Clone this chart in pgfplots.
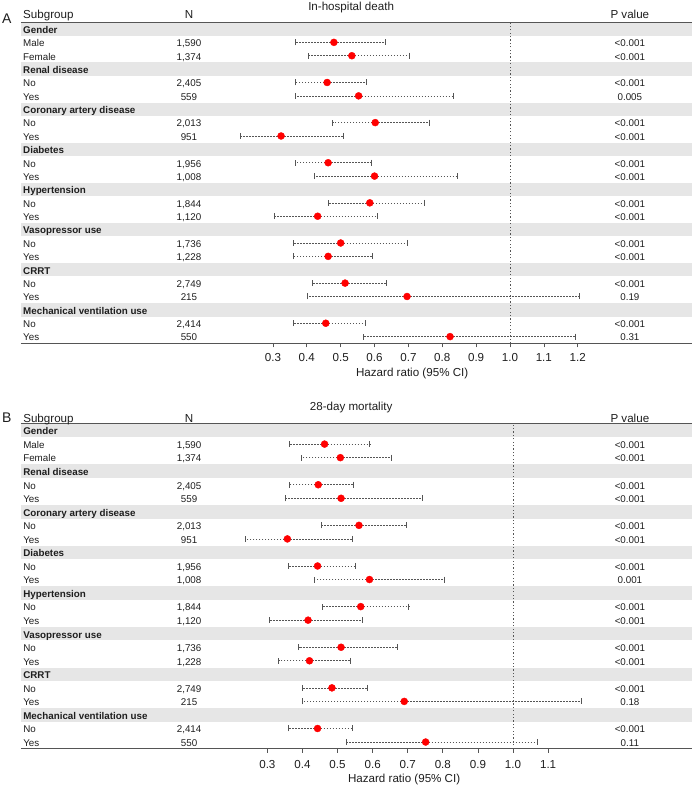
\documentclass[border=0pt]{standalone}
\usepackage{fontspec}
\setmainfont{Liberation Sans}
\usepackage{pgfplots}
\usepackage{pgfplotstable}
\pgfplotsset{compat=1.18}

\definecolor{band}{HTML}{E6E6E6}
\definecolor{txt}{HTML}{1E1E1E}
\definecolor{ln}{HTML}{555555}

\newcommand{\bodyf}{\fontsize{9.8}{11}\selectfont}
\newcommand{\headf}{\fontsize{11.6}{13}\selectfont}

\pgfplotstableread{
y hr lo hi
23 0.480 0.367 0.632
22 0.533 0.404 0.704
20 0.460 0.367 0.576
19 0.553 0.366 0.833
17 0.602 0.476 0.762
16 0.324 0.205 0.507
14 0.463 0.365 0.590
13 0.600 0.423 0.845
11 0.586 0.463 0.746
10 0.432 0.303 0.609
8 0.500 0.359 0.697
7 0.463 0.359 0.594
5 0.513 0.415 0.636
4 0.696 0.401 1.204
2 0.456 0.360 0.573
1 0.823 0.567 1.193
}\dataA

\pgfplotstableread{
y hr lo hi
23 0.463 0.362 0.592
22 0.508 0.396 0.653
20 0.445 0.362 0.545
19 0.510 0.350 0.742
17 0.561 0.453 0.695
16 0.357 0.236 0.541
14 0.443 0.359 0.551
13 0.591 0.433 0.803
11 0.566 0.457 0.703
10 0.416 0.305 0.571
8 0.510 0.389 0.670
7 0.420 0.332 0.536
5 0.484 0.401 0.585
4 0.690 0.399 1.194
2 0.443 0.361 0.542
1 0.751 0.526 1.070
}\dataB

\tikzset{rowtxt/.style={font=\bodyf, text=txt, inner sep=0pt, text height=7pt, text depth=0pt, yshift=-0.8pt}}

\newcommand{\band}[1]{\fill[band] (axis cs:\pgfkeysvalueof{/pgfplots/xmin},#1-0.5) rectangle (axis cs:\pgfkeysvalueof{/pgfplots/xmax},#1+0.5);}
\newcommand{\grp}[2]{\node[rowtxt, anchor=west, font=\bodyf\bfseries] at (axis cs:\LX,#1) {#2};}
\newcommand{\rw}[4]{\node[rowtxt, anchor=west] at (axis cs:\LX,#1) {#2};\node[rowtxt] at (axis cs:\NX,#1) {#3};\node[rowtxt] at (axis cs:\PX,#1) {#4};}

\pgfplotsset{forest/.style={
  scale only axis, width=671pt,
  ymin=0.5, ymax=24.5,
  clip=false,
  axis x line*=bottom, axis y line=none,
  x axis line style={ln, line width=0.9pt},
  tick align=outside, major tick length=4pt,
  xtick style={ln, line width=0.7pt},
  ytick=\empty,
  xticklabel style={font=\headf, text=txt, yshift=-3pt, /pgf/number format/fixed, /pgf/number format/fixed zerofill, /pgf/number format/precision=1},
  /pgf/number format/assume math mode=true,
}}

\begin{document}
\begin{tikzpicture}
\path[use as bounding box] (0,0) rectangle (693pt,-789pt);

% ---------------- Panel A ----------------
\def\LX{-0.438}\def\NX{0.052}\def\PX{1.354}
\begin{axis}[forest, at={(21pt,-22.3pt)}, anchor=north west, height=321pt,
  xmin=-0.444, xmax=1.5375,
  xtick={0.3,0.4,0.5,0.6,0.7,0.8,0.9,1.0,1.1,1.2},
  title={In-hospital death},
  every axis title/.style={at={(axis description cs:0.492,1)}, anchor=base, yshift=12pt, font=\headf, text=txt},
  xlabel={Hazard ratio (95\% CI)},
  every axis x label/.style={at={(axis description cs:0.583,0)}, anchor=base, yshift=-33pt, font=\headf, text=txt},
]
\band{24}\band{21}\band{18}\band{15}\band{12}\band{9}\band{6}\band{3}
\draw[ln, line width=0.9pt] (rel axis cs:0,1) -- (rel axis cs:1,1);
\addplot[ln, line width=0.8pt, dash pattern=on 1.2pt off 2.2pt] coordinates {(1,0.5) (1,24.5)};
\addplot[only marks, mark=*, mark size=3.5pt, color=red, mark options={fill=red, draw=red},
  error bars/.cd, x dir=both, x explicit, error mark=|,
  error bar style={ln, line width=0.6pt, dash pattern=on 1.6pt off 1.4pt},
  error mark options={ln, line width=0.7pt, solid, mark size=3pt}]
  table[x=hr, y=y, x error plus expr=\thisrow{hi}-\thisrow{hr}, x error minus expr=\thisrow{hr}-\thisrow{lo}] {\dataA};
\node[anchor=base west, font=\headf, text=txt, inner sep=0pt, yshift=3.8pt] at (axis cs:\LX,24.5) {Subgroup};
\node[anchor=base, font=\headf, text=txt, inner sep=0pt, yshift=3.8pt] at (axis cs:\NX,24.5) {N};
\node[anchor=base, font=\headf, text=txt, inner sep=0pt, yshift=3.8pt] at (axis cs:\PX,24.5) {P value};
\grp{24}{Gender}
\rw{23}{Male}{1,590}{<0.001}
\rw{22}{Female}{1,374}{<0.001}
\grp{21}{Renal disease}
\rw{20}{No}{2,405}{<0.001}
\rw{19}{Yes}{559}{0.005}
\grp{18}{Coronary artery disease}
\rw{17}{No}{2,013}{<0.001}
\rw{16}{Yes}{951}{<0.001}
\grp{15}{Diabetes}
\rw{14}{No}{1,956}{<0.001}
\rw{13}{Yes}{1,008}{<0.001}
\grp{12}{Hypertension}
\rw{11}{No}{1,844}{<0.001}
\rw{10}{Yes}{1,120}{<0.001}
\grp{9}{Vasopressor use}
\rw{8}{No}{1,736}{<0.001}
\rw{7}{Yes}{1,228}{<0.001}
\grp{6}{CRRT}
\rw{5}{No}{2,749}{<0.001}
\rw{4}{Yes}{215}{0.19}
\grp{3}{Mechanical ventilation use}
\rw{2}{No}{2,414}{<0.001}
\rw{1}{Yes}{550}{0.31}
\end{axis}
\node[anchor=base west, font=\fontsize{14}{16}\selectfont, text=txt, inner sep=0pt] at (2pt,-24pt) {A};

% ---------------- Panel B ----------------
\def\LX{-0.396}\def\NX{0.077}\def\PX{1.333}
\begin{axis}[forest, at={(21pt,-423.8pt)}, anchor=north west, height=325pt,
  xmin=-0.402, xmax=1.51,
  xtick={0.3,0.4,0.5,0.6,0.7,0.8,0.9,1.0,1.1},
  xticklabel style={yshift=-1.5pt},
  title={28-day mortality},
  every axis title/.style={at={(axis description cs:0.492,1)}, anchor=base, yshift=13.5pt, font=\headf, text=txt},
  xlabel={Hazard ratio (95\% CI)},
  every axis x label/.style={at={(axis description cs:0.571,0)}, anchor=base, yshift=-34pt, font=\headf, text=txt},
]
\band{24}\band{21}\band{18}\band{15}\band{12}\band{9}\band{6}\band{3}
\draw[ln, line width=0.9pt] (rel axis cs:0,1) -- (rel axis cs:1,1);
\addplot[ln, line width=0.8pt, dash pattern=on 1.2pt off 2.2pt] coordinates {(1,0.5) (1,24.5)};
\addplot[only marks, mark=*, mark size=3.5pt, color=red, mark options={fill=red, draw=red},
  error bars/.cd, x dir=both, x explicit, error mark=|,
  error bar style={ln, line width=0.6pt, dash pattern=on 1.6pt off 1.4pt},
  error mark options={ln, line width=0.7pt, solid, mark size=3pt}]
  table[x=hr, y=y, x error plus expr=\thisrow{hi}-\thisrow{hr}, x error minus expr=\thisrow{hr}-\thisrow{lo}] {\dataB};
\node[anchor=base west, font=\headf, text=txt, inner sep=0pt, yshift=1pt] at (axis cs:\LX,24.5) {Subgroup};
\node[anchor=base, font=\headf, text=txt, inner sep=0pt, yshift=1pt] at (axis cs:\NX,24.5) {N};
\node[anchor=base, font=\headf, text=txt, inner sep=0pt, yshift=1pt] at (axis cs:\PX,24.5) {P value};
\grp{24}{Gender}
\rw{23}{Male}{1,590}{<0.001}
\rw{22}{Female}{1,374}{<0.001}
\grp{21}{Renal disease}
\rw{20}{No}{2,405}{<0.001}
\rw{19}{Yes}{559}{<0.001}
\grp{18}{Coronary artery disease}
\rw{17}{No}{2,013}{<0.001}
\rw{16}{Yes}{951}{<0.001}
\grp{15}{Diabetes}
\rw{14}{No}{1,956}{<0.001}
\rw{13}{Yes}{1,008}{0.001}
\grp{12}{Hypertension}
\rw{11}{No}{1,844}{<0.001}
\rw{10}{Yes}{1,120}{<0.001}
\grp{9}{Vasopressor use}
\rw{8}{No}{1,736}{<0.001}
\rw{7}{Yes}{1,228}{<0.001}
\grp{6}{CRRT}
\rw{5}{No}{2,749}{<0.001}
\rw{4}{Yes}{215}{0.18}
\grp{3}{Mechanical ventilation use}
\rw{2}{No}{2,414}{<0.001}
\rw{1}{Yes}{550}{0.11}
\end{axis}
\node[anchor=base west, font=\fontsize{14}{16}\selectfont, text=txt, inner sep=0pt] at (2pt,-422.3pt) {B};
\end{tikzpicture}
\end{document}
